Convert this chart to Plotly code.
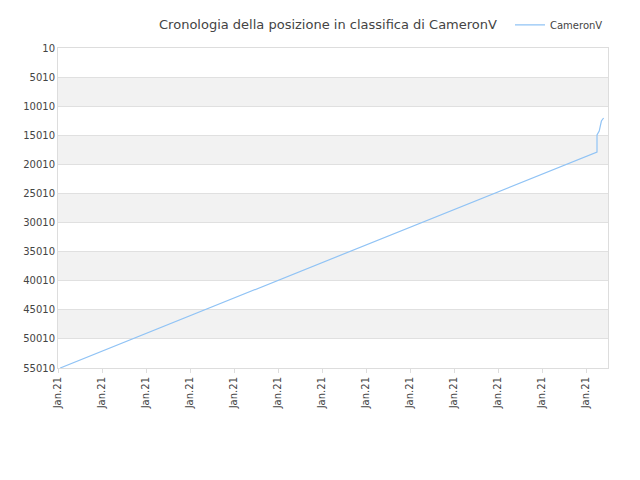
import plotly.graph_objects as go

# rank history (x = position along the time axis, y = rank)
steps = [1, 245, 245, 246, 247, 248]
ranks = [55010, 17890, 14960, 14300, 12560, 12040]

tick_pos = list(range(0, 241, 20))
tick_labels = ["Jan.21"] * len(tick_pos)
y_ticks = list(range(10, 55011, 5000))
y_labels = [str(v) for v in y_ticks]

fig = go.Figure()
fig.add_trace(go.Scatter(
    x=steps, y=ranks, mode="lines", name="CameronV",
    line=dict(color="#90c3f5", width=1.2)
))

# alternating grey bands
shapes = []
for lo in range(5010, 55010, 10000):
    shapes.append(dict(type="rect", xref="paper", yref="y", x0=0, x1=1,
                       y0=lo, y1=lo + 5000, fillcolor="#f2f2f2",
                       line=dict(width=0), layer="below"))

fig.update_layout(
    width=640, height=480,
    title=dict(text="Cronologia della posizione in classifica di CameronV",
               x=0.5, y=0.975, xanchor="center",
               font=dict(size=13, color="#444")),
    font=dict(family="DejaVu Sans", size=10, color="#444"),
    plot_bgcolor="white", paper_bgcolor="white",
    margin=dict(l=50, r=40, t=40, b=120),
    shapes=shapes,
    showlegend=True,
    legend=dict(yref="container", x=1.0, y=0.995, xanchor="right",
                yanchor="top", font=dict(size=10), itemwidth=30,
                bgcolor="rgba(0,0,0,0)"),
    xaxis=dict(range=[0, 250], tickvals=tick_pos, ticktext=tick_labels,
               tickangle=-90, showgrid=False, zeroline=False, automargin=False,
               showline=True, linecolor="#ddd", mirror=True,
               ticks="outside", ticklen=4, tickcolor="#ddd"),
    yaxis=dict(range=[55010, 10], tickvals=y_ticks, ticktext=y_labels,
               showgrid=True, automargin=False,
               gridcolor="#e0e0e0", zeroline=False, showline=True,
               linecolor="#ddd", mirror=True),
)

fig.write_html("out.html")
